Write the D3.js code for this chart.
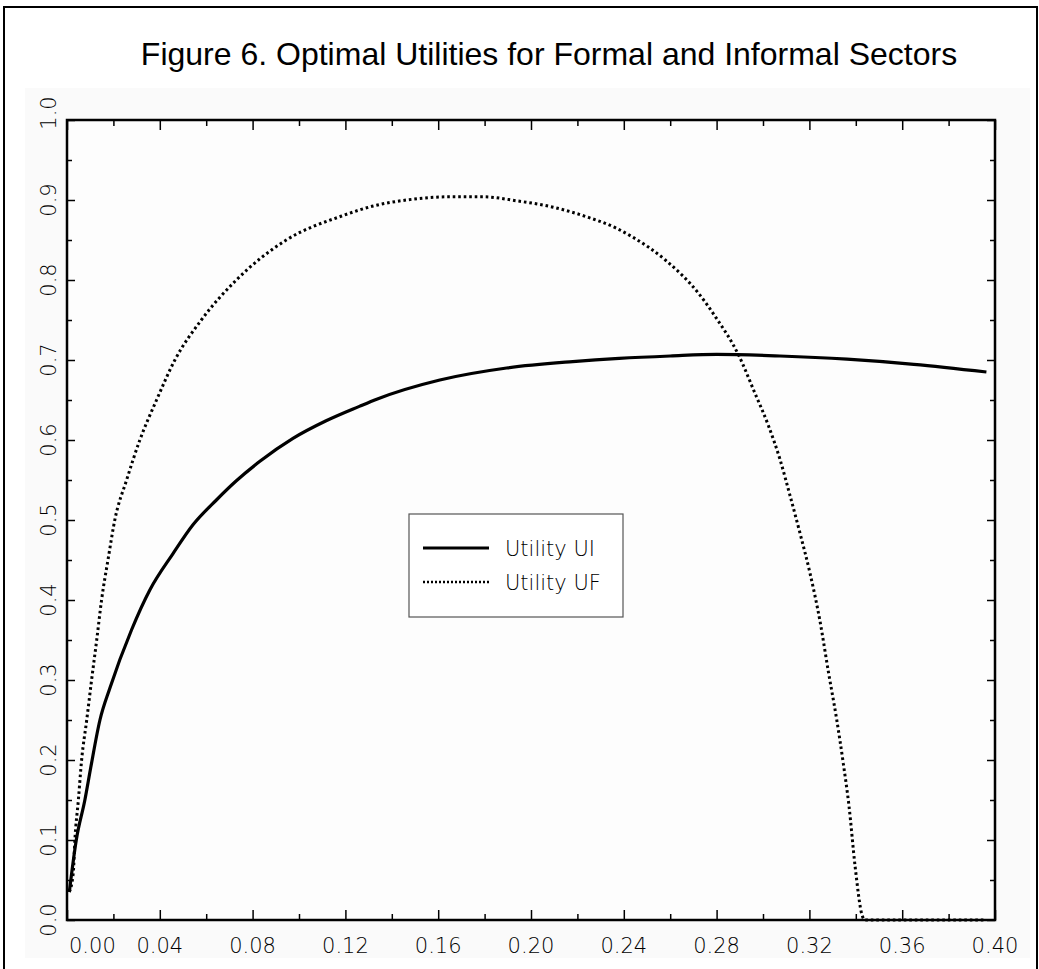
<!DOCTYPE html>
<html>
<head>
<meta charset="utf-8">
<script src="https://cdn.jsdelivr.net/npm/d3@7"></script>
<style>
  body { margin: 0; background: #fff; }
  svg { display: block; }
</style>
</head>
<body>
<script>
// chart data
var uiX = [0.001, 0.004, 0.0077, 0.0102, 0.0142, 0.0185, 0.0278, 0.0357, 0.0457,
           0.0543, 0.0644, 0.073, 0.083, 0.0974, 0.1117, 0.126, 0.1335, 0.1607, 0.1895,
           0.218, 0.238, 0.26, 0.28, 0.3073, 0.3362, 0.365, 0.3963];
var uiY = [0.035, 0.10, 0.15, 0.19, 0.25, 0.29, 0.3625, 0.4125, 0.458,
           0.494, 0.525, 0.549, 0.573, 0.602, 0.624, 0.642, 0.651, 0.675, 0.690,
           0.698, 0.702, 0.705, 0.707, 0.705, 0.701, 0.6946, 0.685];

var ufX = [0.001, 0.0027, 0.0034, 0.0049, 0.0063, 0.0085, 0.0106, 0.0128, 0.0149, 0.0178,
           0.0206, 0.0257, 0.0314, 0.0386, 0.0465, 0.0579, 0.073, 0.0945, 0.1184, 0.132,
           0.1464, 0.165, 0.1795, 0.1938, 0.2096, 0.224, 0.2369, 0.2436, 0.2579, 0.2723,
           0.2795, 0.2895, 0.2966, 0.3024, 0.3073, 0.3116, 0.316, 0.3203, 0.3246, 0.3282,
           0.3318, 0.3346, 0.3371, 0.3397, 0.3427, 0.344, 0.3956];
var ufY = [0.035, 0.059, 0.10, 0.15, 0.20, 0.25, 0.30, 0.35, 0.40, 0.4525,
           0.50, 0.55, 0.60, 0.65, 0.70, 0.75, 0.80, 0.85, 0.88, 0.8925,
           0.90, 0.904, 0.904, 0.899, 0.891, 0.879, 0.8646, 0.854, 0.825, 0.783,
           0.754, 0.706, 0.658, 0.6175, 0.576, 0.531, 0.483, 0.433, 0.373, 0.31,
           0.25, 0.196, 0.1417, 0.067, 0.006, 0.0, 0.0];

var xMajor = [0, 0.04, 0.08, 0.12, 0.16, 0.20, 0.24, 0.28, 0.32, 0.36, 0.40];
var xMinor = [0.02, 0.06, 0.10, 0.14, 0.18, 0.22, 0.26, 0.30, 0.34, 0.38];
var yMajor = [0, 0.1, 0.2, 0.3, 0.4, 0.5, 0.6, 0.7, 0.8, 0.9, 1.0];
var yMinor = [0.05, 0.15, 0.25, 0.35, 0.45, 0.55, 0.65, 0.75, 0.85, 0.95];

var seriesNames = ["Utility UI", "Utility UF"];
var title = "Figure 6. Optimal Utilities for Formal and Informal Sectors";

//create svg
var svg = d3.select("body").append("svg")
    .attr("width", 1039)
    .attr("height", 969);

var margin = {left: 67, right: 44, top: 120, bottom: 49};
var width = 1039 - margin.left - margin.right;
var height = 969 - margin.top - margin.bottom;

// outer frame + light panel
svg.append("rect")
    .attr("x", 25).attr("y", 88)
    .attr("width", 1005).attr("height", 870)
    .attr("fill", "#fafafa");
svg.append("path")
    .attr("d", "M4,975V7H1037V975")
    .attr("fill", "none")
    .attr("stroke", "#000")
    .attr("stroke-width", 2);

svg.append("text")
    .attr("x", 549)
    .attr("y", 65)
    .attr("text-anchor", "middle")
    .style("font-family", "'Liberation Sans', Arial, sans-serif")
    .style("font-size", "32px")
    .text(title);

var x = d3.scaleLinear().domain([0, 0.40]).range([0, width]);
var y = d3.scaleLinear().domain([0, 1.0]).range([height, 0]);

var g = svg.append("g")
    .attr("transform", "translate(" + margin.left + "," + margin.top + ")");

g.append("rect")
    .attr("width", width).attr("height", height)
    .attr("fill", "#fdfdfd");

var tickFont = "'DejaVu Sans', sans-serif";

// ticks, all pointing inward
function ticks(axis, vals, size, transform) {
    var a = g.append("g")
        .attr("transform", transform || null)
        .call(axis.tickValues(vals).tickSize(size).tickFormat(""));
    a.select(".domain").remove();
    a.selectAll("line").attr("stroke-width", 1.5);
    return a;
}
ticks(d3.axisBottom(x), xMajor, -10, "translate(0," + height + ")");
ticks(d3.axisBottom(x), xMinor, -6, "translate(0," + height + ")");
ticks(d3.axisTop(x), xMajor, -10);
ticks(d3.axisTop(x), xMinor, -6);
ticks(d3.axisLeft(y), yMajor, -8);
ticks(d3.axisLeft(y), yMinor, -5);
ticks(d3.axisRight(y), yMajor, -8, "translate(" + width + ",0)");
ticks(d3.axisRight(y), yMinor, -5, "translate(" + width + ",0)");

// x labels
g.selectAll(".xlab")
    .data(xMajor)
    .enter().append("text")
    .attr("class", "xlab")
    .attr("x", function(d) { return d === 0 ? x(d) + 2 : x(d); })
    .attr("y", height + 33)
    .attr("text-anchor", function(d) { return d === 0 ? "start" : "middle"; })
    .style("font-family", tickFont)
    .style("font-weight", 200)
    .style("font-size", "21px")
    .text(d3.format(".2f"));

// y labels, rotated
g.selectAll(".ylab")
    .data(yMajor)
    .enter().append("text")
    .attr("class", "ylab")
    .attr("transform", function(d) {
        return "translate(-11," + (d === 1 ? y(d) - 7 : y(d)) + ") rotate(-90)";
    })
    .attr("text-anchor", "middle")
    .style("font-family", tickFont)
    .style("font-weight", 200)
    .style("font-size", "21px")
    .text(d3.format(".1f"));

// lines
var line = d3.line()
    .curve(d3.curveMonotoneX)
    .x(function(d) { return x(d[0]); })
    .y(function(d) { return y(d[1]); });

var uiData = d3.zip(uiX, uiY);
var ufData = d3.zip(ufX, ufY);

g.append("path")
    .datum(ufData)
    .attr("d", line)
    .attr("fill", "none")
    .attr("stroke", "#000")
    .attr("stroke-width", 3)
    .attr("stroke-dasharray", "2.6,2.9");

g.append("path")
    .datum(uiData)
    .attr("d", line)
    .attr("fill", "none")
    .attr("stroke", "#000")
    .attr("stroke-width", 3.2)
    .attr("stroke-linejoin", "round");

// plot frame
g.append("rect")
    .attr("width", width).attr("height", height)
    .attr("fill", "none")
    .attr("stroke", "#000")
    .attr("stroke-width", 2.5);

// legend
var leg = svg.append("g").attr("transform", "translate(409,514)");
leg.append("rect")
    .attr("width", 214).attr("height", 103)
    .attr("fill", "#fff")
    .attr("stroke", "#555")
    .attr("stroke-width", 1.2);
leg.append("line")
    .attr("x1", 14).attr("x2", 80).attr("y1", 34).attr("y2", 34)
    .attr("stroke", "#000").attr("stroke-width", 3.2);
leg.append("line")
    .attr("x1", 14).attr("x2", 80).attr("y1", 68).attr("y2", 68)
    .attr("stroke", "#000").attr("stroke-width", 2.4)
    .attr("stroke-dasharray", "2,2");
leg.selectAll(".legtext")
    .data(seriesNames)
    .enter().append("text")
    .attr("x", 96)
    .attr("y", function(d, i) { return 42 + i * 34; })
    .style("font-family", tickFont)
    .style("font-weight", 200)
    .style("font-size", "21px")
    .text(function(d) { return d; });
</script>
</body>
</html>
